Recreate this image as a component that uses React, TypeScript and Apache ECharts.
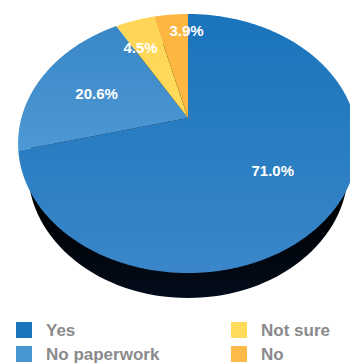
import React, { useEffect, useRef } from "react";
import * as echarts from "echarts";

const categories = ["Yes", "No paperwork", "Not sure", "No"];
const shares = [71.0, 20.6, 4.5, 3.9];
const legendLeftColumn = ["Yes", "No paperwork"];
const legendRightColumn = ["Not sure", "No"];

const FONT = '"Liberation Sans", Arial, sans-serif';
const APEX_X = 188;
const APEX_Y = 118;
const TILT = 0.197;
const RADIUS_X = 166.6;
const RADIUS_Y = 124.5;
const total = shares.reduce((a, b) => a + b, 0);

// Maps a point of the unit disc (angle clockwise from 12 o'clock) onto the tilted plate.
function project(angle: number, r: number): [number, number] {
  const u = Math.sin(angle) * r;
  const v = -Math.cos(angle) * r;
  const d = 1 - TILT * v;
  return [APEX_X + (RADIUS_X * u) / d, APEX_Y + (RADIUS_Y * v) / d];
}

function vGrad(y0: number, y1: number, c0: string, c1: string) {
  return new echarts.graphic.LinearGradient(
    0, y0, 0, y1,
    [{ offset: 0, color: c0 }, { offset: 1, color: c1 }],
    true
  );
}

const swatches = ["#1b75bc", "#4795d1", "#ffdb5c", "#fdb94a"];
const fills = [
  () => vGrad(14, 273, "#1a74bb", "#3a86c8"),
  () => vGrad(27, 153, "#3a87c6", "#4d99d5"),
  () => vGrad(17, 118, "#ffd556", "#ffdb5c"),
  () => vGrad(14, 118, "#fdb640", "#fcb942"),
];
// Label placement for each slice: radial distance and a small nudge for the narrow wedges.
const labelPlacement = [
  { r: 0.63, dx: -5, dy: 0 },
  { r: 0.63, dx: 1, dy: 4 },
  { r: 0.69, dx: -9, dy: 0 },
  { r: 0.82, dx: 13, dy: 0 },
];

function sliceSeries(index: number) {
  const before = shares.slice(0, index).reduce((a, b) => a + b, 0);
  const start = (before / total) * Math.PI * 2;
  const end = ((before + shares[index]) / total) * Math.PI * 2;
  const mid = (start + end) / 2;
  return {
    type: "custom",
    name: categories[index],
    coordinateSystem: "none",
    silent: true,
    z: 3,
    clip: false,
    itemStyle: { color: swatches[index] },
    data: [shares[index]],
    renderItem: () => {
      const points: [number, number][] = [[APEX_X, APEX_Y]];
      const steps = Math.max(4, Math.ceil((end - start) / 0.01));
      for (let i = 0; i <= steps; i++) {
        points.push(project(start + ((end - start) * i) / steps, 1));
      }
      const place = labelPlacement[index];
      const [lx, ly] = project(mid, place.r);
      return {
        type: "group",
        children: [
          {
            type: "polygon",
            shape: { points },
            style: { fill: fills[index]() },
          },
          {
            type: "text",
            z2: 10,
            x: lx + place.dx,
            y: ly + place.dy,
            style: {
              text: shares[index].toFixed(1) + "%",
              fill: "#ffffff",
              font: `bold 15px ${FONT}`,
              align: "center",
              verticalAlign: "middle",
            },
          },
        ],
      };
    },
  };
}

// The dark rim of the plate, drawn underneath the slices.
const rimSeries = {
  type: "custom",
  name: "rim",
  coordinateSystem: "none",
  silent: true,
  z: 1,
  clip: false,
  data: [total],
  renderItem: () => ({
    type: "ellipse",
    shape: { cx: 188, cy: 170, rx: 160, ry: 128 },
    style: { fill: vGrad(190, 298, "#000000", "#020c1a") },
  }),
};

const legendBase = {
  orient: "vertical",
  top: 321,
  height: 60,
  itemWidth: 16,
  itemHeight: 16,
  itemGap: 6,
  icon: "rect",
  selectedMode: false,
  padding: 0,
  textStyle: {
    color: "#8a8a8d",
    fontFamily: FONT,
    fontWeight: "bold",
    fontSize: 17,
    lineHeight: 16,
    padding: [0, 0, 2, 9],
  },
};

export default function App() {
  const ref = useRef<HTMLDivElement>(null);
  useEffect(() => {
    const chart = echarts.init(ref.current!, null, { renderer: "svg" });
    chart.setOption({
      animation: false,
      backgroundColor: "#ffffff",
      legend: [
        { ...legendBase, left: 16, data: legendLeftColumn },
        { ...legendBase, left: 231, data: legendRightColumn },
      ],
      series: [rimSeries, ...categories.map((_, i) => sliceSeries(i))],
    });
    return () => chart.dispose();
  }, []);
  return (
    <div
      ref={ref}
      style={{ position: "fixed", left: 0, top: 0, width: 350, height: 363 }}
    />
  );
}
